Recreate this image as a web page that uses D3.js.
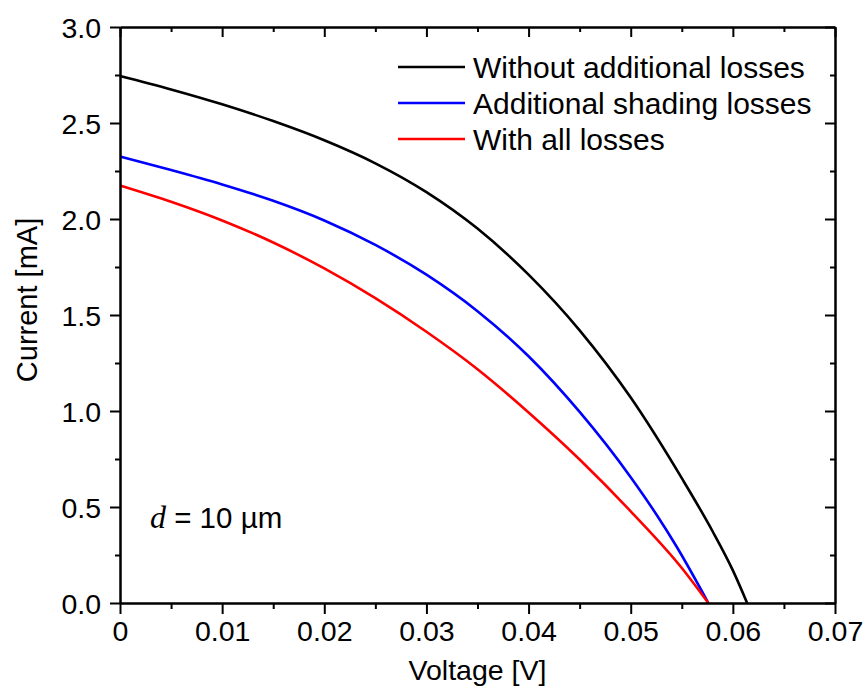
<!DOCTYPE html>
<html>
<head>
<meta charset="utf-8">
<script src="https://cdn.jsdelivr.net/npm/d3@7"></script>
<style>
  html, body { margin: 0; padding: 0; background: #fff; }
  svg text { font-family: "Liberation Sans", Arial, sans-serif; fill: #000; }
</style>
</head>
<body>
<svg id="chart" width="867" height="689"></svg>
<script>
// ---- data ----
const seriesNames = ["Without additional losses", "Additional shading losses", "With all losses"];
const seriesColors = ["#000000", "#0000ff", "#ff0000"];
const voltBlack = [0, 0.005, 0.01, 0.015, 0.02, 0.025, 0.03, 0.035, 0.04, 0.045, 0.05, 0.055, 0.058, 0.06, 0.0614];
const currBlack = [2.745, 2.675, 2.5975, 2.51, 2.41, 2.29, 2.14, 1.95, 1.71, 1.42, 1.07, 0.65, 0.375, 0.17, 0];
const voltBlue  = [0, 0.005, 0.01, 0.015, 0.02, 0.025, 0.03, 0.035, 0.04, 0.045, 0.05, 0.0525, 0.0545, 0.0576];
const currBlue  = [2.325, 2.255, 2.18, 2.095, 1.9925, 1.865, 1.71, 1.52, 1.285, 0.995, 0.655, 0.462, 0.293, 0];
const voltRed   = [0, 0.005, 0.01, 0.015, 0.02, 0.025, 0.03, 0.035, 0.04, 0.045, 0.05, 0.055, 0.0576];
const currRed   = [2.175, 2.09, 1.9925, 1.8775, 1.7425, 1.5875, 1.4125, 1.2175, 0.9925, 0.7475, 0.4775, 0.1825, 0];
const xTicks = [0, 0.01, 0.02, 0.03, 0.04, 0.05, 0.06, 0.07];
const xTickLabels = ["0", "0.01", "0.02", "0.03", "0.04", "0.05", "0.06", "0.07"];
const xMinor = [0.005, 0.015, 0.025, 0.035, 0.045, 0.055, 0.065];
const yTicks = [0, 0.5, 1.0, 1.5, 2.0, 2.5, 3.0];
const yTickLabels = ["0.0", "0.5", "1.0", "1.5", "2.0", "2.5", "3.0"];
const yMinor = [0.25, 0.75, 1.25, 1.75, 2.25, 2.75];

const series = [
  { v: voltBlack, i: currBlack },
  { v: voltBlue,  i: currBlue },
  { v: voltRed,   i: currRed }
];

// ---- layout ----
const svg = d3.select("#chart");
const L = 120, R = 835, T = 27, B = 603;
const x = d3.scaleLinear().domain([0, 0.07]).range([L, R]);
const y = d3.scaleLinear().domain([0, 3.0]).range([B, T]);

const tickFont = 28.5;

// curves
const line = d3.line().x(d => x(d[0])).y(d => y(d[1])).curve(d3.curveMonotoneX);
series.forEach((s, k) => {
  const pts = s.v.map((v, j) => [v, s.i[j]]);
  svg.append("path").attr("d", line(pts))
    .attr("fill", "none").attr("stroke", seriesColors[k]).attr("stroke-width", 2.6)
    .attr("stroke-linejoin", "round");
});

// axes
const axB = svg.append("g").attr("transform", `translate(0,${B})`)
  .call(d3.axisBottom(x).tickValues(xTicks).tickFormat((d, j) => xTickLabels[j]).tickSize(11).tickPadding(7).tickSizeOuter(0));
const axBm = svg.append("g").attr("transform", `translate(0,${B})`)
  .call(d3.axisBottom(x).tickValues(xMinor).tickFormat("").tickSize(6).tickSizeOuter(0));
const axT = svg.append("g").attr("transform", `translate(0,${T})`)
  .call(d3.axisBottom(x).tickValues(xTicks).tickFormat("").tickSize(10).tickSizeOuter(0));
const axTm = svg.append("g").attr("transform", `translate(0,${T})`)
  .call(d3.axisBottom(x).tickValues(xMinor).tickFormat("").tickSize(5).tickSizeOuter(0));
const axL = svg.append("g").attr("transform", `translate(${L},0)`)
  .call(d3.axisLeft(y).tickValues(yTicks).tickFormat((d, j) => yTickLabels[j]).tickSize(10).tickPadding(9).tickSizeOuter(0));
const axLm = svg.append("g").attr("transform", `translate(${L},0)`)
  .call(d3.axisLeft(y).tickValues(yMinor).tickFormat("").tickSize(5).tickSizeOuter(0));
const axR = svg.append("g").attr("transform", `translate(${R},0)`)
  .call(d3.axisLeft(y).tickValues(yTicks).tickFormat("").tickSize(10).tickSizeOuter(0));
const axRm = svg.append("g").attr("transform", `translate(${R},0)`)
  .call(d3.axisLeft(y).tickValues(yMinor).tickFormat("").tickSize(5).tickSizeOuter(0));

[axB, axBm, axT, axTm, axL, axLm, axR, axRm].forEach(g => {
  g.selectAll(".domain").attr("stroke", "#000").attr("stroke-width", 2);
  g.selectAll(".tick line").attr("stroke", "#000").attr("stroke-width", 2);
  g.selectAll(".tick text").attr("font-size", tickFont).attr("font-family", "Liberation Sans, Arial, sans-serif").attr("fill", "#000");
});
axB.selectAll(".tick text").attr("dy", "0.71em");
axL.selectAll(".tick text").attr("dy", "0.36em");

// axis titles
svg.append("text").attr("x", (L + R) / 2).attr("y", 680).attr("text-anchor", "middle")
  .attr("font-size", 28.5).text("Voltage [V]");
svg.append("text").attr("transform", `translate(37,300) rotate(-90)`).attr("text-anchor", "middle")
  .attr("font-size", 29).text("Current [mA]");

// legend
const legY = [67, 103, 139];
seriesNames.forEach((name, k) => {
  svg.append("line").attr("x1", 398).attr("x2", 465).attr("y1", legY[k]).attr("y2", legY[k])
    .attr("stroke", seriesColors[k]).attr("stroke-width", 2.6);
  svg.append("text").attr("x", 473).attr("y", legY[k]).attr("dy", "0.36em")
    .attr("font-size", 30).text(name);
});

// annotation
const ann = svg.append("text").attr("x", 150).attr("y", 528).attr("font-size", 29.5);
ann.append("tspan").attr("font-family", "Liberation Serif, Times New Roman, serif").attr("font-style", "italic").attr("font-size", 32).text("d");
ann.append("tspan").text(" = 10 µm");
</script>
</body>
</html>
